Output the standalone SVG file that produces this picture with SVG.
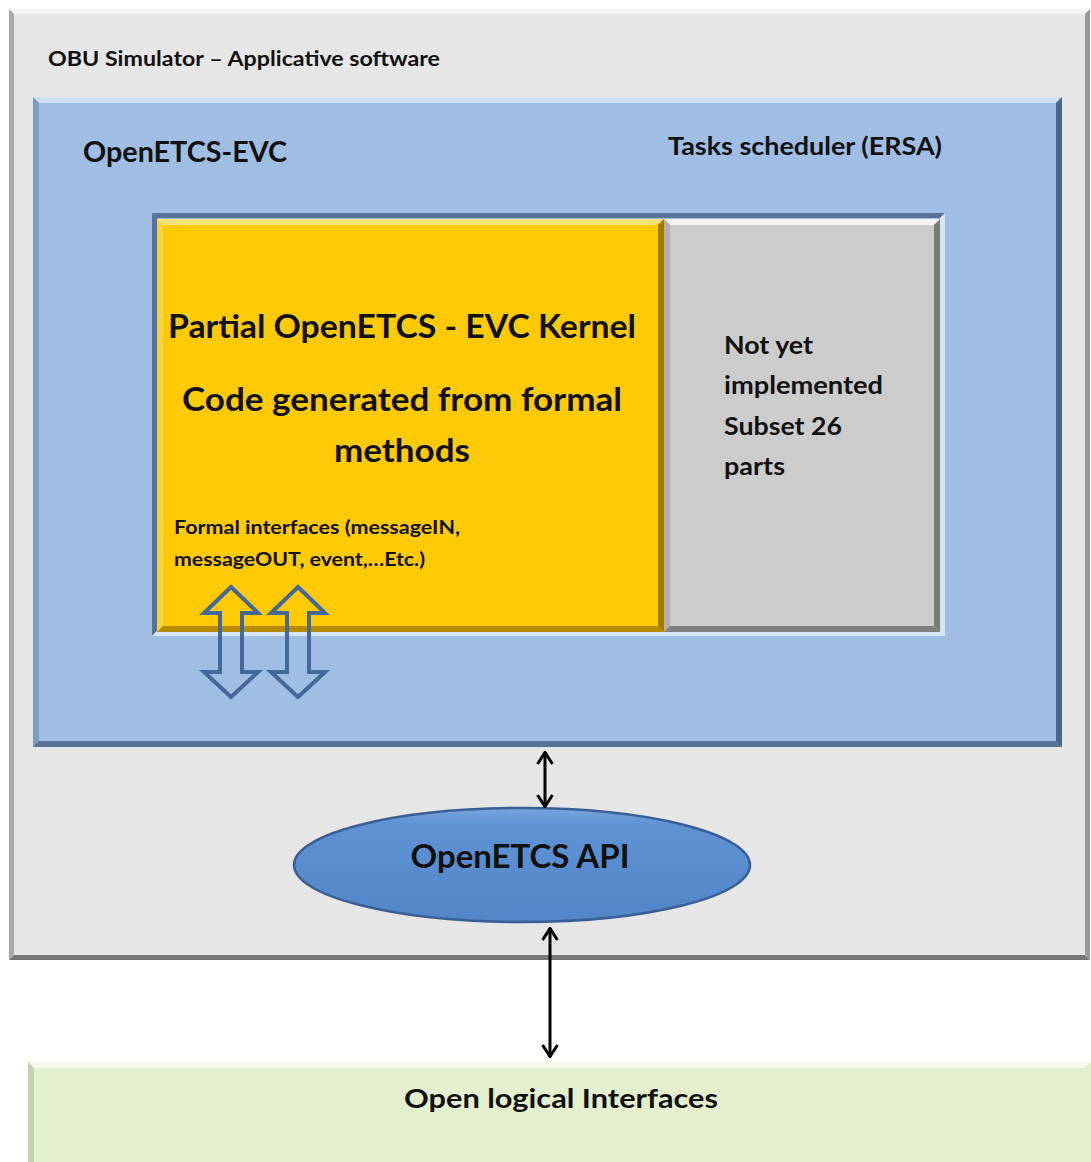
<svg xmlns="http://www.w3.org/2000/svg" width="1091" height="1162" viewBox="0 0 1091 1162">
<defs>
<style>
text{font-family:Lato,"Open Sans","Liberation Sans",sans-serif;font-weight:bold;fill:#111}
.conn{stroke:#000;stroke-width:3;fill:none}
.hollow{fill:none;stroke:#44689a;stroke-width:4;stroke-linejoin:miter}
.lite{fill:#fff;opacity:0.55}
</style>
<marker id="ah" viewBox="0 0 14 18" refX="13" refY="9" markerWidth="14" markerHeight="18" markerUnits="userSpaceOnUse" orient="auto-start-reverse">
<path d="M1,1.5 L12.5,9 L1,16.5" fill="none" stroke="#000" stroke-width="3"/>
</marker>
<linearGradient id="ell" x1="0" y1="0" x2="0" y2="1">
<stop offset="0" stop-color="#78a4de"/>
<stop offset="0.15" stop-color="#5e92d3"/>
<stop offset="1" stop-color="#5286c8"/>
</linearGradient>
</defs>
<rect width="1091" height="1162" fill="#fff"/>

<g id="obu-simulator">
<rect x="9" y="9" width="1081" height="951" fill="#e6e6e6"/>
<polygon class="lite" points="9,9 1090,9 1085,14 14,14"/>
<polygon fill="#aaa" points="9,9 14,14 14,955 9,960"/>
<polygon fill="#777" points="9,960 14,955 1085,955 1090,960"/>
<polygon fill="#999" points="1090,9 1090,960 1085,955 1085,14"/>
<text x="48" y="66" font-size="21" textLength="392" lengthAdjust="spacingAndGlyphs">OBU Simulator – Applicative software</text>
</g>

<g id="openetcs-evc">
<rect x="33" y="97" width="1029" height="650" fill="#a0bde3"/>
<polygon fill="#cfe0f5" points="33,97 1062,97 1056,103 39,103"/>
<polygon fill="#7f9cc4" points="33,97 39,103 39,741 33,747"/>
<polygon fill="#5a7297" points="33,747 39,741 1056,741 1062,747"/>
<polygon fill="#4f6585" points="1062,97 1062,747 1056,741 1056,103"/>
<text x="83" y="162" font-size="28" textLength="204" lengthAdjust="spacingAndGlyphs">OpenETCS-EVC</text>
<text x="668" y="155" font-size="24" textLength="274" lengthAdjust="spacingAndGlyphs">Tasks scheduler (ERSA)</text>
</g>

<g id="inner-frame">
<rect x="152" y="213" width="793" height="423" fill="#a0bde3"/>
<polygon fill="#5a7297" points="152,213 945,213 940,218 157,218"/>
<polygon fill="#5a7297" points="152,213 157,218 157,631 152,636"/>
<polygon fill="#d6e5f7" points="152,636 157,631 940,631 945,636"/>
<polygon fill="#d6e5f7" points="945,213 945,636 940,631 940,218"/>
</g>

<g id="evc-kernel">
<rect x="157" y="219" width="507" height="413" fill="#fec905"/>
<polygon fill="#ffe27a" points="157,219 664,219 658,225 163,225"/>
<polygon fill="#f5d340" points="157,219 163,225 163,626 157,632"/>
<polygon fill="#b68b00" points="157,632 163,626 658,626 664,632"/>
<polygon fill="#a07a00" points="664,219 664,632 658,626 658,225"/>
<text x="402" y="338" font-size="32" text-anchor="middle" textLength="468" lengthAdjust="spacingAndGlyphs">Partial OpenETCS - EVC Kernel</text>
<text x="402" y="411" font-size="32" text-anchor="middle" textLength="440" lengthAdjust="spacingAndGlyphs">Code generated from formal</text>
<text x="402" y="462" font-size="32" text-anchor="middle" textLength="136" lengthAdjust="spacingAndGlyphs">methods</text>
<text x="174" y="534" font-size="18" textLength="286" lengthAdjust="spacingAndGlyphs">Formal interfaces (messageIN,</text>
<text x="174" y="566" font-size="18" textLength="251" lengthAdjust="spacingAndGlyphs">messageOUT, event,…Etc.)</text>
</g>

<g id="not-implemented">
<rect x="664" y="219" width="276" height="413" fill="#cccccc"/>
<polygon fill="#f2f2f2" points="664,219 940,219 934,225 670,225"/>
<polygon fill="#b0b0b0" points="664,219 670,225 670,626 664,632"/>
<polygon fill="#808080" points="664,632 670,626 934,626 940,632"/>
<polygon fill="#7a7a7a" points="940,219 940,632 934,626 934,225"/>
<text x="724" y="354" font-size="24" textLength="89" lengthAdjust="spacingAndGlyphs">Not yet</text>
<text x="724" y="394" font-size="24" textLength="159" lengthAdjust="spacingAndGlyphs">implemented</text>
<text x="724" y="435" font-size="24" textLength="118" lengthAdjust="spacingAndGlyphs">Subset 26</text>
<text x="724" y="475" font-size="24" textLength="61" lengthAdjust="spacingAndGlyphs">parts</text>
</g>

<g id="openetcs-api">
<ellipse cx="522" cy="865" rx="228" ry="57" fill="url(#ell)" stroke="#3a5f94" stroke-width="2.5"/>
<text x="520" y="868" font-size="32" text-anchor="middle" textLength="219" lengthAdjust="spacingAndGlyphs">OpenETCS API</text>
</g>

<g id="open-logical-interfaces">
<rect x="28" y="1062" width="1063" height="100" fill="#e3efcd"/>
<polygon fill="#f4f9ea" points="28,1062 1091,1062 1085,1068 34,1068"/>
<polygon fill="#c4d3ab" points="28,1062 34,1068 34,1162 28,1162"/>
<text x="561" y="1108" font-size="27" text-anchor="middle" textLength="314" lengthAdjust="spacingAndGlyphs">Open logical Interfaces</text>
</g>

<g id="connectors">
<line class="conn" x1="545" y1="752" x2="545" y2="807" marker-start="url(#ah)" marker-end="url(#ah)"/>
<line class="conn" x1="550" y1="928" x2="550" y2="1057" marker-start="url(#ah)" marker-end="url(#ah)"/>
<polygon class="hollow" points="231,587 258,613 242,613 242,672 258,672 231,697 204,672 220,672 220,613 204,613"/>
<polygon class="hollow" points="298,587 325,613 309,613 309,672 325,672 298,697 271,672 287,672 287,613 271,613"/>
</g>
</svg>
